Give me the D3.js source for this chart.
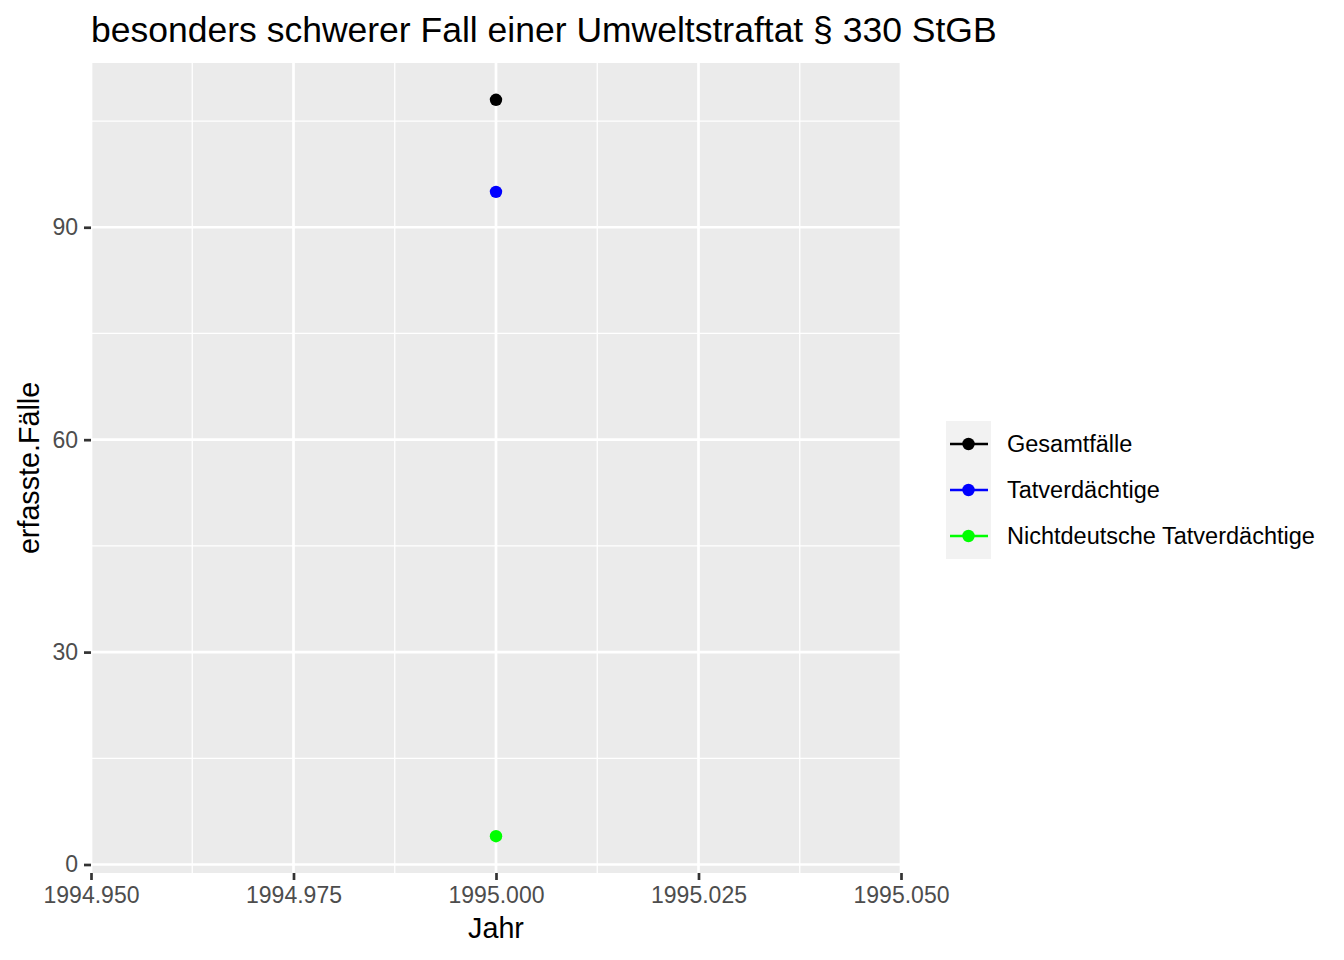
<!DOCTYPE html>
<html>
<head>
<meta charset="utf-8">
<script src="https://cdn.jsdelivr.net/npm/d3@7"></script>
<style>
  html, body { margin: 0; padding: 0; background: #fff; }
  svg { display: block; font-family: "Liberation Sans", Arial, Helvetica, sans-serif; }
</style>
</head>
<body>
<svg id="chart" width="1344" height="960"></svg>
<script>
// ---- data ----
const title = "besonders schwerer Fall einer Umweltstraftat § 330 StGB";
const seriesNames = ["Gesamtfälle", "Tatverdächtige", "Nichtdeutsche Tatverdächtige"];
const seriesColors = ["#000000", "#0000FF", "#00FF00"];
const years = [1995];
const gesamtfaelle = [108];
const tatverdaechtige = [95];
const nichtdeutsche = [4];
const xTicks = [1994.95, 1994.975, 1995.0, 1995.025, 1995.05];
const xMinor = [1994.9625, 1994.9875, 1995.0125, 1995.0375];
const yTicks = [0, 30, 60, 90];
const yMinor = [15, 45, 75, 105];
const xLabel = "Jahr";
const yLabel = "erfasste.Fälle";

const seriesValues = [gesamtfaelle, tatverdaechtige, nichtdeutsche];

// ---- layout ----
const panel = { left: 91, right: 901, top: 63, bottom: 873 };
const svg = d3.select("#chart");

const allVals = seriesValues.flat();
const yMin = d3.min(allVals), yMax = d3.max(allVals);
const yPad = (yMax - yMin) * 0.05;
const x = d3.scaleLinear().domain([1994.95, 1995.05]).range([panel.left, panel.right]);
const y = d3.scaleLinear().domain([yMin - yPad, yMax + yPad]).range([panel.bottom, panel.top]);

// panel background
svg.append("rect")
  .attr("x", panel.left).attr("y", panel.top)
  .attr("width", panel.right - panel.left).attr("height", panel.bottom - panel.top)
  .attr("fill", "#EBEBEB");

const grid = svg.append("g");
// minor grid
grid.selectAll(".ymin").data(yMinor).join("line")
  .attr("x1", panel.left).attr("x2", panel.right)
  .attr("y1", d => y(d)).attr("y2", d => y(d))
  .attr("stroke", "#fff").attr("stroke-width", 1.3);
grid.selectAll(".xmin").data(xMinor).join("line")
  .attr("y1", panel.top).attr("y2", panel.bottom)
  .attr("x1", d => x(d)).attr("x2", d => x(d))
  .attr("stroke", "#fff").attr("stroke-width", 1.3);
// major grid
grid.selectAll(".ymaj").data(yTicks).join("line")
  .attr("x1", panel.left).attr("x2", panel.right)
  .attr("y1", d => y(d)).attr("y2", d => y(d))
  .attr("stroke", "#fff").attr("stroke-width", 2.7);
grid.selectAll(".xmaj").data(xTicks).join("line")
  .attr("y1", panel.top).attr("y2", panel.bottom)
  .attr("x1", d => x(d)).attr("x2", d => x(d))
  .attr("stroke", "#fff").attr("stroke-width", 2.7);

// axes
const xAxis = svg.append("g")
  .attr("transform", `translate(0,${panel.bottom})`)
  .call(d3.axisBottom(x).tickValues(xTicks).tickFormat(d3.format(".3f")).tickSize(7).tickPadding(7));
const yAxis = svg.append("g")
  .attr("transform", `translate(${panel.left},0)`)
  .call(d3.axisLeft(y).tickValues(yTicks).tickFormat(d3.format("d")).tickSize(7).tickPadding(6));
[xAxis, yAxis].forEach(a => {
  a.select(".domain").remove();
  a.selectAll(".tick line").attr("stroke", "#333333").attr("stroke-width", 2.7);
  a.selectAll(".tick text").attr("fill", "#4D4D4D")
    .style("font-size", "23px").style("font-family", "'Liberation Sans', Arial, sans-serif");
});

// points
seriesValues.forEach((vals, i) => {
  svg.append("g").selectAll("circle").data(vals.map((v, j) => ({ x: years[j], y: v }))).join("circle")
    .attr("cx", d => x(d.x)).attr("cy", d => y(d.y)).attr("r", 6.2)
    .attr("fill", seriesColors[i]);
});

// titles
svg.append("text").attr("x", panel.left).attr("y", 42)
  .style("font-size", "35.5px").attr("fill", "#000").text(title);
svg.append("text").attr("x", (panel.left + panel.right) / 2).attr("y", 938)
  .attr("text-anchor", "middle").style("font-size", "28.7px").attr("fill", "#000").text(xLabel);
svg.append("text")
  .attr("transform", `translate(39,${(panel.top + panel.bottom) / 2}) rotate(-90)`)
  .attr("text-anchor", "middle").style("font-size", "28.7px").attr("fill", "#000").text(yLabel);

// legend
const legX = 946, legY = 421, keyW = 45, keyH = 46;
const leg = svg.append("g");
leg.append("rect").attr("x", legX).attr("y", legY)
  .attr("width", keyW).attr("height", keyH * seriesNames.length).attr("fill", "#F2F2F2");
seriesNames.forEach((name, i) => {
  const cy = legY + keyH * i + keyH / 2;
  leg.append("line").attr("x1", legX + 4).attr("x2", legX + keyW - 3)
    .attr("y1", cy).attr("y2", cy).attr("stroke", seriesColors[i]).attr("stroke-width", 2.7);
  leg.append("circle").attr("cx", legX + keyW / 2).attr("cy", cy).attr("r", 6.2).attr("fill", seriesColors[i]);
  leg.append("text").attr("x", 1007).attr("y", cy).attr("dy", "0.35em")
    .style("font-size", "23.5px").attr("fill", "#000").text(name);
});
</script>
</body>
</html>
